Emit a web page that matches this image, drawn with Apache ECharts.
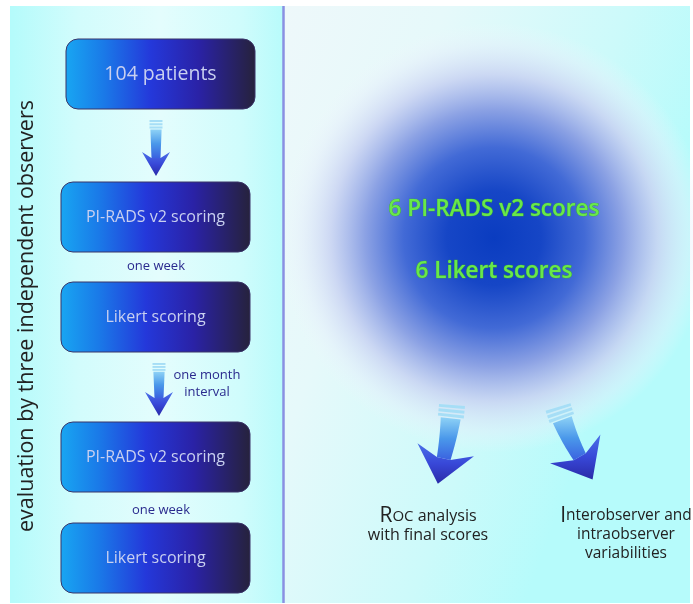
<!DOCTYPE html>
<html><head><meta charset="utf-8">
<script src="https://cdn.jsdelivr.net/npm/echarts@6/dist/echarts.min.js"></script>
<style>html,body{margin:0;padding:0;background:#fff}#c{width:693px;height:604px}</style>
</head><body><div id="c"></div>
<script>
// ---- content (text) ----
const boxLabels = ['104 patients', 'PI-RADS v2 scoring', 'Likert scoring', 'PI-RADS v2 scoring', 'Likert scoring'];
const gapLabels = ['one week', 'one month\ninterval', 'one week'];
const sideLabel = 'evaluation by three independent observers';
const scoreLabels = ['6 PI-RADS v2 scores', '6 Likert scores'];
const outcomeRoc = ['R', 'OC', ' analysis', 'with final scores'];
const outcomeVar = ['I', 'nterobserver and', 'intraobserver', 'variabilities'];

// ---- layout ----
const FONT = '"Open Sans", "Noto Sans", sans-serif';
const boxPos = [[66, 39], [61, 182], [61, 282], [61, 422], [61, 523]];
const BOX_W = 189, BOX_H = 70;
const gapPos = [[156, 266], [207, 384], [161, 510]];

const chart = echarts.init(document.getElementById('c'), null, {width: 693, height: 604, renderer: 'canvas'});

function arrow(sx, sy, rot, len, bend, o) {
  const along = [Math.sin(rot), Math.cos(rot)], perp = [Math.cos(rot), -Math.sin(rot)];
  const Ls = len - o.headLen;
  const p = t => [sx + along[0] * t * Ls + perp[0] * bend * t * t, sy + along[1] * t * Ls + perp[1] * bend * t * t];
  const dn = t => {
    const tx = along[0] * Ls + perp[0] * 2 * bend * t, ty = along[1] * Ls + perp[1] * 2 * bend * t;
    const l = Math.hypot(tx, ty); const d = [tx / l, ty / l];
    return [d, [d[1], -d[0]]];
  };
  const wAt = t => o.w0 + (o.w1 - o.w0) * t;
  const band = (t0, t1, wf, steps) => {
    const R = [], L = [];
    for (let i = 0; i <= steps; i++) {
      const t = t0 + (t1 - t0) * i / steps; const c = p(t); const [, n] = dn(t); const w = wf(t) / 2;
      R.push([c[0] + n[0] * w, c[1] + n[1] * w]); L.push([c[0] - n[0] * w, c[1] - n[1] * w]);
    }
    return R.concat(L.reverse());
  };
  const els = [];
  const stripes = [[0, 0.055], [0.085, 0.14], [0.17, 0.225]];
  stripes.forEach(s => els.push({type: 'polygon', shape: {points: band(s[0], s[1], () => o.ws, 2)},
    style: {fill: '#a6def6'}}));
  els.push({type: 'polygon', shape: {points: band(0.25, 1, t => wAt(t), 14)},
    style: {fill: {type: 'linear', x: 0, y: 0, x2: 0, y2: 1, colorStops: [
      {offset: 0, color: '#8ed2f6'}, {offset: 0.5, color: '#4a98ea'}, {offset: 1, color: '#3a62e0'}]}}});
  const P = p(1); const [d, n] = dn(1);
  const pt = (a, b) => [P[0] + n[0] * a + d[0] * b, P[1] + n[1] * a + d[1] * b];
  els.push({type: 'polygon', shape: {points: [pt(-o.w1 / 2, 0), pt(-o.headHalf, -o.headBack), pt(0, o.headLen), pt(o.headHalf, -o.headBack), pt(o.w1 / 2, 0)]},
    style: {fill: {type: 'linear', x: 0, y: 0, x2: 0, y2: 1, colorStops: [
      {offset: 0, color: '#4a70e8'}, {offset: 0.5, color: '#3848d8'}, {offset: 1, color: '#2a2aa8'}]}}});
  return els;
}

const g = [];
// panels
g.push({type: 'rect', shape: {x: 10, y: 6, width: 273, height: 597},
  style: {fill: {type: 'linear', x: 0, y: 0, x2: 1, y2: 0, colorStops: [
    {offset: 0, color: '#b4fbfb'}, {offset: 0.25, color: '#d2fcfc'}, {offset: 0.55, color: '#e4fdfd'},
    {offset: 0.85, color: '#cffcfc'}, {offset: 1, color: '#b8fbfb'}]}}});
g.push({type: 'rect', shape: {x: 284, y: 6, width: 406, height: 597},
  style: {fill: {type: 'linear', x: 0, y: 0, x2: 1, y2: 0.25, colorStops: [
    {offset: 0, color: '#eef8fa'}, {offset: 0.35, color: '#e6f9fa'}, {offset: 0.75, color: '#ccfafa'}, {offset: 1, color: '#b6fbfb'}]}}});
// blue glow
g.push({type: 'circle', shape: {cx: 494, cy: 238, r: 215},
  style: {fill: {type: 'radial', x: 0.5, y: 0.5, r: 0.5, colorStops: [
    {offset: 0, color: '#0a3cc0'}, {offset: 0.22, color: '#1646c6'}, {offset: 0.42, color: '#426ad6'},
    {offset: 0.6, color: '#8ca2e4'}, {offset: 0.76, color: 'rgba(200,210,242,0.85)'}, {offset: 0.9, color: 'rgba(228,236,250,0.45)'},
    {offset: 1, color: 'rgba(240,246,252,0)'}]}}});
// divider
g.push({type: 'line', shape: {x1: 283.5, y1: 6, x2: 283.5, y2: 603}, style: {stroke: '#8a90e2', lineWidth: 2.5}});

// boxes
boxLabels.forEach((lab, i) => {
  const [x, y] = boxPos[i];
  g.push({type: 'rect', shape: {x: x, y: y, width: BOX_W, height: BOX_H, r: 12},
    style: {fill: {type: 'linear', x: 0, y: 0, x2: 1, y2: 0, colorStops: [
      {offset: 0, color: '#18a6f2'}, {offset: 0.2, color: '#1a7ae8'}, {offset: 0.45, color: '#2438da'},
      {offset: 0.7, color: '#2a22a6'}, {offset: 1, color: '#26223c'}]}, stroke: '#3a3468', lineWidth: 1}});
  g.push({type: 'text', x: x + BOX_W / 2, y: y + BOX_H / 2,
    style: {text: lab, fill: '#c9d0f0', fontFamily: FONT, fontSize: i === 0 ? 19.5 : 16, align: 'center', verticalAlign: 'middle'}});
});
gapLabels.forEach((lab, i) => {
  g.push({type: 'text', x: gapPos[i][0], y: gapPos[i][1],
    style: {text: lab, fill: '#2a2a8e', fontFamily: FONT, fontSize: 13, lineHeight: 17, align: 'center', verticalAlign: 'middle'}});
});
// arrows
const small = {ws: 13, w0: 12, w1: 9, headHalf: 14, headLen: 18, headBack: 6};
arrow(156, 120, 0, 56, 0, small).forEach(e => g.push(e));
arrow(159, 363, 0, 53, 0, small).forEach(e => g.push(e));
const big = {ws: 26, w0: 22, w1: 14, headHalf: 29, headLen: 26, headBack: 9};
arrow(452, 405, -0.08, 80, -4, big).forEach(e => g.push(e));
arrow(558, 407, 0.3, 80, 6, big).forEach(e => g.push(e));

// side label
g.push({type: 'text', x: 27, y: 316, rotation: Math.PI / 2,
  style: {text: sideLabel, fill: '#222', fontFamily: FONT, fontSize: 21.5, align: 'center', verticalAlign: 'middle'}});
// score labels
scoreLabels.forEach((lab, i) => {
  g.push({type: 'text', x: 494, y: i === 0 ? 210 : 272,
    style: {text: lab, fill: '#68e84a', stroke: '#3fae2c', lineWidth: 0.7, fontFamily: FONT, fontWeight: 600, fontSize: 22.5, align: 'center', verticalAlign: 'middle'}});
});
// outcomes
const rs = (sz) => ({fontSize: sz, fontFamily: FONT, fill: '#222', lineHeight: 19});
g.push({type: 'text', x: 428, y: 526,
  style: {text: '{R|' + outcomeRoc[0] + '}{s|' + outcomeRoc[1] + '}{n|' + outcomeRoc[2] + '}\n{n|' + outcomeRoc[3] + '}',
    rich: {R: rs(21), s: rs(15), n: rs(16)}, align: 'center', verticalAlign: 'middle', fill: '#222', fontFamily: FONT}});
g.push({type: 'text', x: 626, y: 535,
  style: {text: '{R|' + outcomeVar[0] + '}{n|' + outcomeVar[1] + '}\n{n|' + outcomeVar[2] + '}\n{n|' + outcomeVar[3] + '}',
    rich: {R: rs(21), n: rs(15.5)}, align: 'center', verticalAlign: 'middle', fill: '#222', fontFamily: FONT}});

chart.setOption({backgroundColor: '#ffffff', animation: false, graphic: {elements: g}});
</script></body></html>
